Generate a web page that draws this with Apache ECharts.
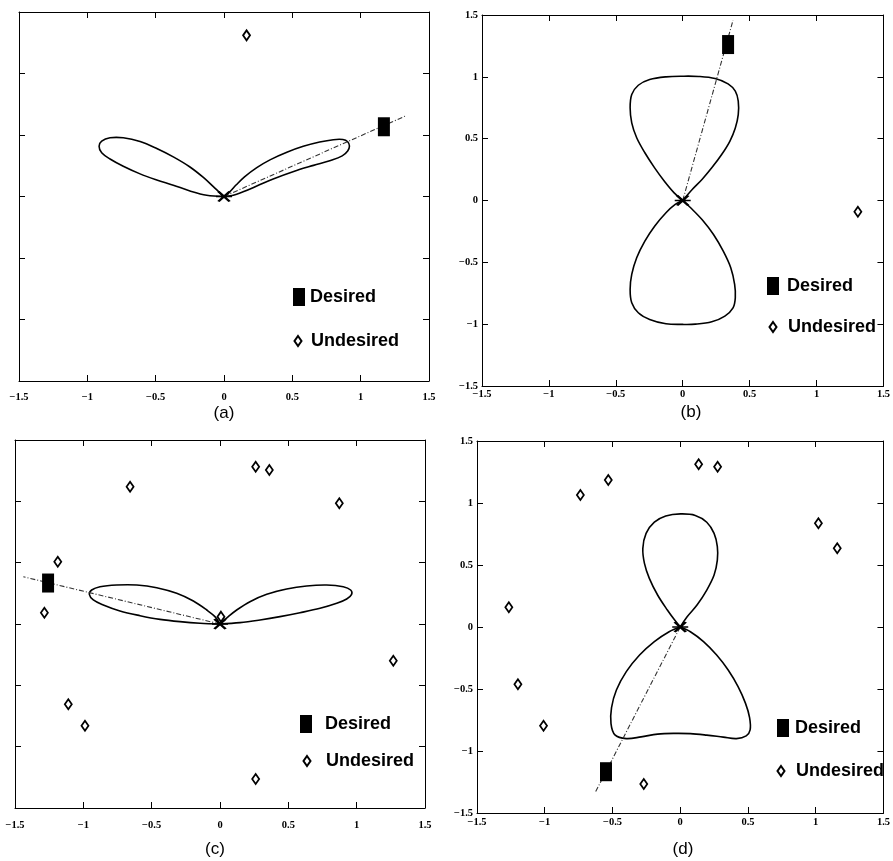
<!DOCTYPE html>
<html>
<head>
<meta charset="utf-8">
<script src="https://cdn.jsdelivr.net/npm/echarts@6/dist/echarts.min.js"></script>
<style>
  html, body { margin: 0; padding: 0; background: #fff; }
  #chart { width: 893px; height: 861px; }
</style>
</head>
<body>
<div id="chart"></div>
<script>
// Shared axis ticks and their labels
const tickValues = [-1.5, -1, -0.5, 0, 0.5, 1, 1.5];
const tickLabels = ['\u22121.5', '\u22121', '\u22120.5', '0', '0.5', '1', '1.5'];
const panelLabels = ['(a)', '(b)', '(c)', '(d)'];
const legendNames = ['Desired', 'Undesired'];

// (a) two-lobe beam pattern, steered towards the desired source
const lobeA1 = [[0,0],[0.04,0.035],[0.09,0.095],[0.15,0.16],[0.24,0.235],[0.34,0.3],[0.46,0.36],[0.58,0.408],[0.7,0.443],[0.8,0.462],[0.87,0.463],[0.905,0.445],[0.918,0.41],[0.905,0.37],[0.865,0.33],[0.78,0.293],[0.655,0.253],[0.51,0.204],[0.36,0.143],[0.24,0.085],[0.14,0.038],[0.06,0.008],[0,0]];
const lobeA2 = [[0,0],[-0.03,0.03],[-0.078,0.08],[-0.151,0.155],[-0.249,0.24],[-0.371,0.322],[-0.492,0.39],[-0.614,0.447],[-0.737,0.477],[-0.834,0.477],[-0.895,0.45],[-0.914,0.409],[-0.895,0.355],[-0.834,0.305],[-0.737,0.246],[-0.614,0.184],[-0.492,0.135],[-0.371,0.092],[-0.249,0.045],[-0.127,0.01],[0,0]];
const steerA = [[0,0],[1.336,0.659]];
const desiredA = [[1.17,0.567]];
const undesiredA = [[0.165,1.31]];

// (b) vertical figure-eight pattern
const lobeB1 = [[0,0],[0.071,0.089],[0.144,0.17],[0.217,0.264],[0.291,0.372],[0.352,0.479],[0.393,0.587],[0.415,0.695],[0.415,0.803],[0.393,0.884],[0.339,0.943],[0.242,0.986],[0.12,1.003],[0,1.005],[-0.125,1.0],[-0.247,0.978],[-0.332,0.932],[-0.381,0.857],[-0.393,0.749],[-0.381,0.628],[-0.344,0.507],[-0.283,0.386],[-0.21,0.264],[-0.137,0.156],[-0.064,0.062],[0,0]];
const lobeB2 = [[0,0],[0.059,-0.059],[0.144,-0.154],[0.23,-0.275],[0.303,-0.41],[0.359,-0.544],[0.388,-0.679],[0.393,-0.787],[0.376,-0.868],[0.315,-0.935],[0.217,-0.981],[0.095,-1.0],[0,-1.002],[-0.125,-0.997],[-0.247,-0.962],[-0.332,-0.908],[-0.381,-0.827],[-0.393,-0.719],[-0.381,-0.598],[-0.344,-0.463],[-0.283,-0.329],[-0.21,-0.208],[-0.125,-0.099],[-0.056,-0.032],[0,0]];
const steerB = [[0,0],[0.376,1.458]];
const desiredB = [[0.339,1.261]];
const undesiredB = [[1.309,-0.091]];

// (c) two-lobe pattern with many interferers
const lobeC1 = [[0,0],[0.061,0.06],[0.122,0.114],[0.219,0.182],[0.342,0.242],[0.488,0.285],[0.634,0.31],[0.78,0.318],[0.902,0.304],[0.956,0.277],[0.963,0.242],[0.927,0.204],[0.854,0.169],[0.732,0.128],[0.585,0.092],[0.439,0.06],[0.293,0.033],[0.146,0.011],[0,0]];
const lobeC2 = [[0,0],[-0.037,0.06],[-0.097,0.114],[-0.195,0.187],[-0.317,0.25],[-0.463,0.296],[-0.609,0.318],[-0.756,0.318],[-0.878,0.304],[-0.939,0.277],[-0.956,0.242],[-0.927,0.196],[-0.854,0.155],[-0.732,0.106],[-0.585,0.068],[-0.439,0.038],[-0.293,0.019],[-0.146,0.006],[0,0]];
const steerC = [[0,0],[-1.439,0.385]];
const desiredC = [[-1.258,0.334]];
const undesiredC = [[0.261,1.282],[0.361,1.255],[-0.658,1.119],[0.873,0.984],[-1.187,0.508],[-1.285,0.092],[1.268,-0.299],[-1.11,-0.655],[-0.988,-0.829],[0.261,-1.263],[0.007,0.06]];

// (d) asymmetric figure-eight pattern
const lobeD1 = [[0,0],[0.051,0.083],[0.124,0.177],[0.196,0.298],[0.25,0.419],[0.274,0.54],[0.274,0.648],[0.25,0.755],[0.196,0.845],[0.111,0.9],[0.002,0.912],[-0.107,0.895],[-0.191,0.845],[-0.252,0.755],[-0.276,0.634],[-0.264,0.513],[-0.228,0.392],[-0.167,0.258],[-0.095,0.137],[-0.041,0.056],[0,0]];
const lobeD2 = [[0,0],[0.075,-0.038],[0.172,-0.118],[0.269,-0.226],[0.354,-0.347],[0.427,-0.481],[0.482,-0.616],[0.512,-0.73],[0.516,-0.83],[0.487,-0.878],[0.415,-0.9],[0.318,-0.888],[0.196,-0.872],[0.075,-0.86],[-0.046,-0.858],[-0.167,-0.864],[-0.289,-0.886],[-0.398,-0.9],[-0.482,-0.87],[-0.511,-0.78],[-0.507,-0.65],[-0.471,-0.508],[-0.398,-0.36],[-0.3,-0.226],[-0.191,-0.118],[-0.082,-0.038],[0,0]];
const steerD = [[0,0],[-0.628,-1.336]];
const desiredD = [[-0.548,-1.167]];
const undesiredD = [[-0.737,1.065],[-0.531,1.185],[0.136,1.312],[0.276,1.293],[1.02,0.836],[1.159,0.635],[-1.265,0.159],[-1.198,-0.462],[-1.009,-0.796],[-0.269,-1.266]];

const arrayOrigin = [[0,0]];

// Panel data sets
const panelData = [
  { lobes: [lobeA1, lobeA2], steer: steerA, desired: desiredA, undesired: undesiredA },
  { lobes: [lobeB1, lobeB2], steer: steerB, desired: desiredB, undesired: undesiredB },
  { lobes: [lobeC1, lobeC2], steer: steerC, desired: desiredC, undesired: undesiredC },
  { lobes: [lobeD1, lobeD2], steer: steerD, desired: desiredD, undesired: undesiredD }
];

// Panel layout (pixels)
const panelLayout = [
  { grid: { left: 19, top: 12, width: 410, height: 369 }, yLabels: false, xMargin: 11,
    caption: [224, 413], legD: [293, 288, 0, 0], legU: [293.5, 332, 4.5, 10] },
  { grid: { left: 482, top: 15, width: 410, height: 371 }, yLabels: true, xMargin: 3,
    caption: [691, 412], legD: [767, 277, 3, 0], legU: [768.5, 318, 6.5, 0] },
  { grid: { left: 15, top: 440, width: 410, height: 368 }, yLabels: false, xMargin: 12,
    caption: [215, 849], legD: [300, 715, 8, 0], legU: [302.5, 752, 10.5, 16] },
  { grid: { left: 477, top: 441, width: 412, height: 372 }, yLabels: true, xMargin: 4,
    caption: [683, 849], legD: [777, 719, 1, 0], legU: [776.5, 762, 6.5, 0] }
];

const tickFont = { fontFamily: 'Liberation Serif', fontWeight: 'bold', fontSize: 10.5, color: '#000' };
const fmt = v => tickLabels[Math.round((v - tickValues[0]) * 2)];
const starPath = 'path://M0,5L20,5M3,0L17,10M3,10L17,0';

const grids = [], xAxes = [], yAxes = [], series = [], legends = [], graphics = [];

function valueAxis(gridIndex, position, showLabel, margin) {
  return {
    type: 'value', gridIndex, position,
    min: tickValues[0], max: tickValues[tickValues.length - 1], interval: 0.5,
    axisLine: { show: true, onZero: false, lineStyle: { color: '#000', width: 1 } },
    axisTick: { show: true, inside: true, length: 6, lineStyle: { color: '#000', width: 1 } },
    axisLabel: { show: showLabel, margin, formatter: fmt, ...tickFont },
    splitLine: { show: false }
  };
}

// Pattern lobe: a smooth curve through the listed points, placed with the grid's axes
function lobeSeries(lobe, ax) {
  return Object.assign({
    type: 'custom', silent: true, z: 2, clip: true,
    data: [[0, 0]],
    renderItem: (params, api) => ({
      type: 'polyline',
      shape: { points: lobe.map(p => api.coord(p)), smooth: 0.35 },
      style: { fill: null, stroke: '#000', lineWidth: 1.6 }
    })
  }, ax);
}

panelLayout.forEach((lay, i) => {
  const d = panelData[i];
  grids.push(Object.assign({ containLabel: false }, lay.grid));
  xAxes.push(valueAxis(i, 'bottom', true, lay.xMargin));
  xAxes.push(valueAxis(i, 'top', false, 0));
  yAxes.push(valueAxis(i, 'left', lay.yLabels, 4));
  yAxes.push(valueAxis(i, 'right', false, 0));
  const ax = { xAxisIndex: 2 * i, yAxisIndex: 2 * i };

  d.lobes.forEach(lobe => series.push(lobeSeries(lobe, ax)));

  series.push(Object.assign({
    type: 'line', data: d.steer, symbol: 'none',
    lineStyle: { color: '#333', width: 1.1, type: [5, 2, 1, 2] }, z: 2, silent: true
  }, ax));

  series.push(Object.assign({
    name: 'Desired', type: 'scatter', data: d.desired, symbol: 'rect', symbolSize: [12, 19],
    itemStyle: { color: '#000', opacity: 1 }, z: 4
  }, ax));

  series.push(Object.assign({
    name: 'Undesired', type: 'scatter', data: d.undesired, symbol: 'diamond', symbolSize: [7, 10],
    itemStyle: { color: '#fff', borderColor: '#000', borderWidth: 1.8, opacity: 1 }, z: 4
  }, ax));

  series.push(Object.assign({
    type: 'scatter', data: arrayOrigin, symbol: starPath, symbolSize: [16, 10],
    itemStyle: { color: '#000', borderColor: '#000', borderWidth: 2.2, opacity: 1 }, z: 5
  }, ax));

  const legText = { fontFamily: 'Liberation Sans', fontWeight: 'bold', fontSize: 18, color: '#000' };
  legends.push({
    data: [legendNames[0]], left: lay.legD[0], top: lay.legD[1], padding: 0,
    itemWidth: 12, itemHeight: 18, selectedMode: false,
    itemStyle: { opacity: 1 },
    textStyle: Object.assign({ padding: [lay.legD[3], 0, 0, lay.legD[2]] }, legText)
  });
  legends.push({
    data: [legendNames[1]], left: lay.legU[0], top: lay.legU[1], padding: 0,
    itemWidth: 7, itemHeight: 10, selectedMode: false,
    itemStyle: { opacity: 1 },
    textStyle: Object.assign({ padding: [lay.legU[3], 0, 0, lay.legU[2]] }, legText)
  });

  graphics.push({
    type: 'text', x: lay.caption[0], y: lay.caption[1],
    style: { text: panelLabels[i], textAlign: 'center', textVerticalAlign: 'middle',
             fontFamily: 'Liberation Sans', fontSize: 17, fill: '#000' }
  });
});

const chart = echarts.init(document.getElementById('chart'), null, { renderer: 'canvas' });
chart.setOption({
  animation: false,
  backgroundColor: '#fff',
  grid: grids,
  xAxis: xAxes,
  yAxis: yAxes,
  legend: legends,
  graphic: graphics,
  series
});
</script>
</body>
</html>
